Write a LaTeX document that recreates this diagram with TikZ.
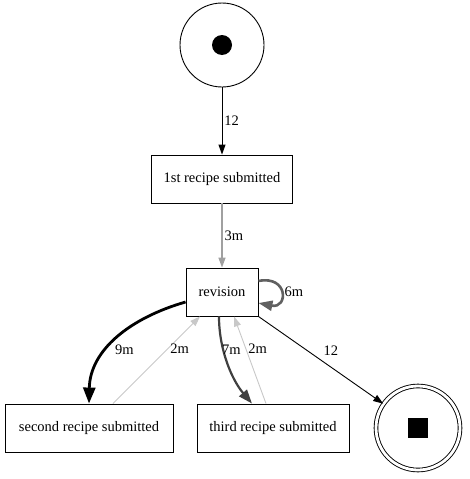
\documentclass[tikz,border=0pt]{standalone}
\usepackage{fontspec}
\setmainfont{Liberation Serif}
\usetikzlibrary{arrows.meta}
\definecolor{gA}{HTML}{A0A0A0}
\definecolor{gB}{HTML}{606060}
\definecolor{gC}{HTML}{404040}
\definecolor{gD}{HTML}{C8C8C8}
\begin{document}
\begin{tikzpicture}[x=1pt,y=-1pt,font=\fontsize{14.5}{17}\selectfont,
    box/.style={draw,line width=.9pt,minimum height=48,inner sep=0},
    lbl/.style={anchor=west,inner sep=2pt},
    tip/.style={-{Triangle[length=10pt,width=7pt]}},
    bigtip/.style={-{Triangle[length=14pt,width=10pt]}},
    hugetip/.style={-{Triangle[length=16pt,width=12pt]}}]
        \useasboundingbox (0,0) rectangle (470,479);
        \node[circle,draw,line width=.9pt,minimum size=84] (start) at (222,45) {};
        \fill (start.center) circle (10);
        \node[box,minimum width=141] (first) at (222,179) {1st recipe submitted};
        \node[box,minimum width=72] (rev) at (222,292) {revision};
        \node[box,minimum width=168] (second) at (89,428) {second recipe submitted};
        \node[box,minimum width=152] (third) at (273,428) {third recipe submitted};
        \node[circle,draw,line width=.9pt,double,double distance=2.8pt,minimum size=84] (end) at (418,428) {};
        \fill (end.center) +(-10,-10) rectangle +(10,10);
        \draw[tip,line width=.9pt] (start) -- node[lbl]{12} (first);
        \draw[tip,gA,line width=1.4pt] (first) -- node[lbl,black]{3m} (rev);
        \draw[bigtip,gB,line width=2.6pt] ([yshift=11]rev.east) .. controls +(30,-6) and +(30,6) .. ([yshift=-11]rev.east);
        \node[lbl] (six) at ([xshift=24]rev.east) {6m};
        \draw[hugetip,line width=2.8pt] ([yshift=-10]rev.west) .. controls (130,318) and (90,350) .. (second.north);
        \node[lbl] (nine) at (113,350) {9m};
        \draw[tip,gD,line width=.9pt] ([xshift=24]second.north) -- node[lbl,black,pos=.63]{2m} ([xshift=-22]rev.south);
        \draw[bigtip,gC,line width=2.2pt] ([xshift=-3]rev.south) .. controls (219,350) and (232,380) .. ([xshift=-21]third.north);
        \node[lbl] (seven) at (220,350) {7m};
        \draw[tip,gD,line width=.9pt] ([xshift=-7]third.north) -- node[lbl,black,pos=.63]{2m} ([xshift=12]rev.south);
        \draw[tip,line width=.9pt] (rev.south east) -- node[lbl,pos=.39,xshift=14]{12} (end);
\end{tikzpicture}
\end{document}
